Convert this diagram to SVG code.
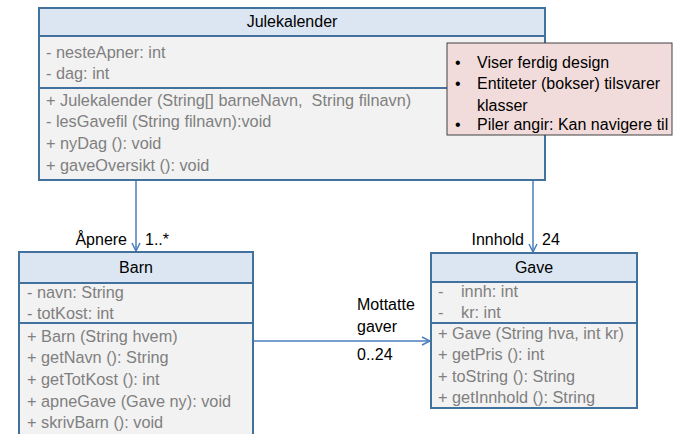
<svg xmlns="http://www.w3.org/2000/svg" width="679" height="434" viewBox="0 0 679 434">
  <defs>
    <style>
      .hdr { fill: #dce6f2; stroke: #41719c; stroke-width: 2; }
      .body { fill: #f2f2f2; stroke: #41719c; stroke-width: 2; }
      .sep { stroke: #41719c; stroke-width: 2; }
      .title { font-family: "Liberation Sans", Arial, sans-serif; font-size: 16px; fill: #000; text-anchor: middle; }
      .mem { font-family: "Liberation Sans", Arial, sans-serif; font-size: 16.3px; fill: #7f7f7f; white-space: pre; }
      .lbl { font-family: "Liberation Sans", Arial, sans-serif; font-size: 16px; fill: #000; }
      .note { fill: #f2dcdb; stroke: #404040; stroke-width: 1; }
      .conn { stroke: #4a7ebb; stroke-width: 1.5; fill: none; }
    </style>
    <marker id="open" viewBox="0 0 10 10" refX="9" refY="5" markerWidth="10" markerHeight="10" markerUnits="userSpaceOnUse" orient="auto">
      <path d="M1,1 L9,5 L1,9" fill="none" stroke="#4a7ebb" stroke-width="1.5"/>
    </marker>
  </defs>
  <rect width="679" height="434" fill="#fff"/>

  <!-- connectors -->
  <g id="connectors">
    <line class="conn" x1="136" y1="181" x2="136" y2="251" marker-end="url(#open)"/>
    <line class="conn" x1="533" y1="181" x2="533" y2="252" marker-end="url(#open)"/>
    <line class="conn" x1="254" y1="341" x2="430" y2="341" marker-end="url(#open)"/>
    <text class="lbl" x="127" y="245" text-anchor="end">Åpnere</text>
    <text class="lbl" x="145" y="245">1..*</text>
    <text class="lbl" x="524" y="245" text-anchor="end">Innhold</text>
    <text class="lbl" x="542" y="245">24</text>
    <text class="lbl" x="357" y="310">Mottatte</text>
    <text class="lbl" x="357" y="332">gaver</text>
    <text class="lbl" x="357" y="360">0..24</text>
  </g>

  <!-- class Julekalender -->
  <g id="julekalender">
    <rect class="body" x="39" y="8" width="506" height="172"/>
    <rect class="hdr" x="39" y="8" width="506" height="28"/>
    <line class="sep" x1="39" y1="88" x2="545" y2="88"/>
    <text class="title" x="292" y="27">Julekalender</text>
    <text class="mem" x="46" y="58">- nesteApner: int</text>
    <text class="mem" x="46" y="79">- dag: int</text>
    <text class="mem" x="46" y="106">+ Julekalender (String[] barneNavn,  String filnavn)</text>
    <text class="mem" x="46" y="127">- lesGavefil (String filnavn):void</text>
    <text class="mem" x="46" y="149">+ nyDag (): void</text>
    <text class="mem" x="46" y="171">+ gaveOversikt (): void</text>
  </g>

  <!-- note -->
  <g id="note">
    <rect class="note" x="447" y="43" width="225" height="92"/>
    <text class="lbl" x="455" y="68">•</text>
    <text class="lbl" x="477" y="68">Viser ferdig design</text>
    <text class="lbl" x="455" y="89">•</text>
    <text class="lbl" x="477" y="89">Entiteter (bokser) tilsvarer</text>
    <text class="lbl" x="477" y="111">klasser</text>
    <text class="lbl" x="455" y="130">•</text>
    <text class="lbl" x="477" y="130">Piler angir: Kan navigere til</text>
  </g>

  <!-- class Barn -->
  <g id="barn">
    <rect class="body" x="19" y="252" width="234" height="200"/>
    <rect class="hdr" x="19" y="252" width="234" height="31"/>
    <line class="sep" x1="19" y1="323" x2="253" y2="323"/>
    <text class="title" x="136" y="273">Barn</text>
    <text class="mem" x="27" y="298">- navn: String</text>
    <text class="mem" x="27" y="319">- totKost: int</text>
    <text class="mem" x="27" y="342">+ Barn (String hvem)</text>
    <text class="mem" x="27" y="363">+ getNavn (): String</text>
    <text class="mem" x="27" y="385">+ getTotKost (): int</text>
    <text class="mem" x="27" y="407">+ apneGave (Gave ny): void</text>
    <text class="mem" x="27" y="428">+ skrivBarn (): void</text>
  </g>

  <!-- class Gave -->
  <g id="gave">
    <rect class="body" x="431" y="253" width="206" height="155"/>
    <rect class="hdr" x="431" y="253" width="206" height="29"/>
    <line class="sep" x1="431" y1="323" x2="637" y2="323"/>
    <text class="title" x="534" y="273">Gave</text>
    <text class="mem" x="438" y="297">-</text>
    <text class="mem" x="461" y="297">innh: int</text>
    <text class="mem" x="438" y="318">-</text>
    <text class="mem" x="461" y="318">kr: int</text>
    <text class="mem" x="438" y="339">+ Gave (String hva, int kr)</text>
    <text class="mem" x="438" y="360">+ getPris (): int</text>
    <text class="mem" x="438" y="382">+ toString (): String</text>
    <text class="mem" x="438" y="403">+ getInnhold (): String</text>
  </g>
</svg>
